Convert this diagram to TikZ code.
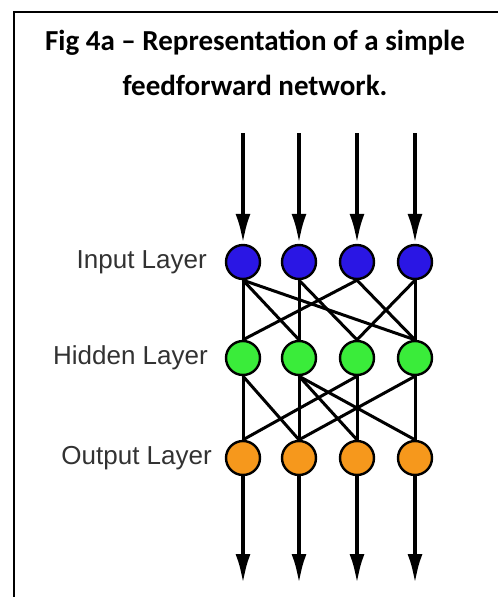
\documentclass[tikz,border=0pt]{standalone}
\usepackage{fontspec}
\setmainfont{Carlito}
\newfontfamily\labfont{Liberation Sans}
\usepackage{tikz}
\usetikzlibrary{arrows.meta}
\usepackage{xcolor}
\definecolor{inblue}{RGB}{42,22,228}
\definecolor{hidgreen}{RGB}{58,236,58}
\definecolor{outorange}{RGB}{246,152,28}
\definecolor{labgray}{RGB}{50,50,50}

\begin{document}
\begin{tikzpicture}[x=1pt, y=-1pt,
  neuron/.style={circle, draw, line width=2.4pt, minimum size=34pt, inner sep=0pt},
  link/.style={line width=3pt},
  flow/.style={line width=4.2pt, -{Latex[length=30pt,width=15pt]}},
  lab/.style={font=\labfont\fontsize{26}{28}\selectfont, text=labgray, anchor=east, inner sep=0pt}
]
\useasboundingbox (0,0) rectangle (498,597);
% frame
\draw[line width=2pt] (14,597) -- (14,12) -- (498,12);
% title
\node[font=\bfseries\fontsize{29}{45}\selectfont, align=center, anchor=base] (title) at (255,95)
  {Fig 4a -- Representation of a simple\\feedforward network.};

% layers
\foreach \i/\x in {1/243,2/299,3/357,4/415} {
  \node[neuron, fill=inblue] (in\i) at (\x,262) {};
  \node[neuron, fill=hidgreen] (hid\i) at (\x,358) {};
  \node[neuron, fill=outorange] (out\i) at (\x,458) {};
  \coordinate (src\i) at (\x,133);
  \coordinate (sink\i) at (\x,584);
}
\node[lab] (inlab) at (207,262) {Input Layer};
\node[lab] (hidlab) at (208,358) {Hidden Layer};
\node[lab] (outlab) at (212,458) {Output Layer};

% connections
\foreach \a/\b in {1/1,1/2,1/4,2/2,2/3,3/1,3/4,4/3,4/4}
  \draw[link] (in\a.south) -- (hid\b.north);
\foreach \a/\b in {1/1,1/2,2/2,2/3,2/4,3/1,3/3,4/2,4/4}
  \draw[link] (hid\a.south) -- (out\b.north);

% inputs and outputs
\foreach \i in {1,...,4} {
  \draw[flow] (src\i) -- (in\i.north);
  \draw[flow] (out\i.south) -- (sink\i);
}
\end{tikzpicture}
\end{document}
